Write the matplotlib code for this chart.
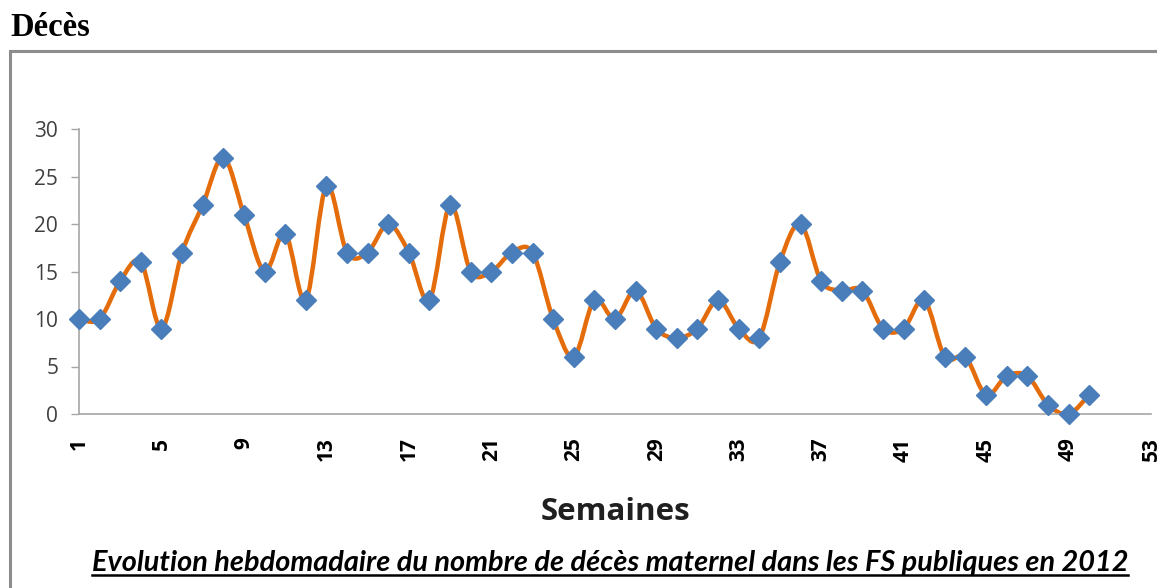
import numpy as np
import matplotlib
matplotlib.use("Agg")
import matplotlib.pyplot as plt
from matplotlib.path import Path
from matplotlib.patches import PathPatch, Rectangle
from matplotlib.lines import Line2D

# Weekly maternal deaths, 2012
weeks = list(range(1, 51))
deaths = [10, 10, 14, 16, 9, 17, 22, 27, 21, 15,
          19, 12, 24, 17, 17, 20, 17, 12, 22, 15,
          15, 17, 17, 10, 6, 12, 10, 13, 9, 8,
          9, 12, 9, 8, 16, 20, 14, 13, 13, 9,
          9, 12, 6, 6, 2, 4, 4, 1, 0, 2]
xticks = list(range(1, 54, 4))
yticks = [0, 5, 10, 15, 20, 25, 30]

title = "Décès"
xlabel = "Semaines"
caption = "Evolution hebdomadaire du nombre de décès maternel dans les FS publiques en 2012"

line_color = "#E46C0A"
marker_color = "#4A7EBB"
axis_color = "#A6A6A6"
text_color = "#404040"


def smooth_path(x, y):
    # Excel-like smoothed line: cubic bezier through each point
    x = np.asarray(x, float)
    y = np.asarray(y, float)
    verts = [(x[0], y[0])]
    codes = [Path.MOVETO]
    n = len(x)
    for i in range(n - 1):
        x0, y0 = (x[i - 1], y[i - 1]) if i > 0 else (x[i], y[i])
        x3, y3 = (x[i + 2], y[i + 2]) if i + 2 < n else (x[i + 1], y[i + 1])
        c1 = (x[i] + (x[i + 1] - x0) / 6, y[i] + (y[i + 1] - y0) / 6)
        c2 = (x[i + 1] - (x3 - x[i]) / 6, y[i + 1] - (y3 - y[i]) / 6)
        verts += [c1, c2, (x[i + 1], y[i + 1])]
        codes += [Path.CURVE4] * 3
    return Path(verts, codes)


fig = plt.figure(figsize=(11.57, 5.88), dpi=100)
ax = fig.add_axes([79 / 1157, 1 - 414 / 588, (1151 - 79) / 1157, (414 - 129) / 588])

patch = PathPatch(smooth_path(weeks, deaths), facecolor="none",
                  edgecolor=line_color, lw=3.2, capstyle="round", joinstyle="round",
                  clip_on=False, zorder=2)
ax.add_patch(patch)
ax.plot(weeks, deaths, linestyle="", marker="D", markersize=10,
        color=marker_color, clip_on=False, zorder=3)

ax.set_xlim(1, 53)
ax.set_ylim(0, 30)
ax.set_xticks(xticks)
ax.set_xticklabels([str(t) for t in xticks], rotation=90, fontsize=15,
                   fontweight="bold", color="black", family="Open Sans")
ax.set_yticks(yticks)
ax.set_yticklabels([str(t) for t in yticks], fontsize=15, color=text_color,
                   family="Open Sans")
ax.tick_params(axis="x", length=0, pad=17)
ax.tick_params(axis="y", length=6, width=1, color=axis_color, pad=9)
for s in ["top", "right"]:
    ax.spines[s].set_visible(False)
for s in ["left", "bottom"]:
    ax.spines[s].set_color(axis_color)
    ax.spines[s].set_linewidth(1.2)

fig.text(615 / 1157, 1 - 512 / 588, xlabel, ha="center", va="center",
         fontsize=22.5, fontweight="bold", family="Open Sans", color="#202020")

cap = fig.text(610 / 1157, 1 - 563 / 588, caption, ha="center", va="center",
               fontsize=20.8, fontweight="bold", style="italic", family="Lato",
               color="black")

fig.text(10 / 1157, 1 - 28 / 588, title, ha="left", va="center",
         fontsize=23.5, fontweight="bold", family="Liberation Serif")

# outer frame, cut by the image edges
fig.patches.append(Rectangle((10 / 1157, -0.1), 1.2, 1 - 51 / 588 + 0.1,
                             transform=fig.transFigure, fill=False,
                             edgecolor="#8C8C8C", lw=2.2, zorder=0))

# underline the caption
fig.canvas.draw()
bb = cap.get_window_extent().transformed(fig.transFigure.inverted())
fig.lines.append(Line2D([bb.x0, bb.x1], [bb.y0 + 0.002, bb.y0 + 0.002],
                        transform=fig.transFigure, color="black", lw=1.8))

fig.savefig("out.png", dpi=100)
